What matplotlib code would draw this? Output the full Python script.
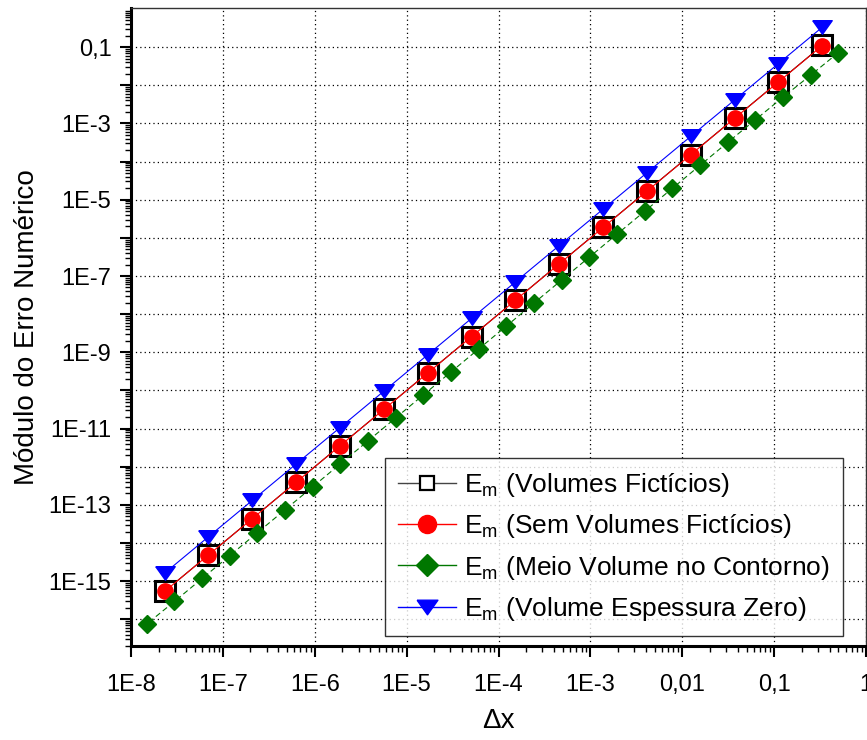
import matplotlib
matplotlib.use("Agg")
import matplotlib.pyplot as plt
import matplotlib.ticker as mticker
from matplotlib.lines import Line2D

plt.rcParams["font.family"] = ["Liberation Sans", "DejaVu Sans"]
plt.rcParams["mathtext.fontset"] = "custom"
plt.rcParams["mathtext.rm"] = "Liberation Sans"

# malhas refinadas por fator 3
dx_3 = [0.3333, 0.1111, 0.03704, 0.01235, 4.115e-3, 1.372e-3, 4.572e-4, 1.524e-4,
        5.081e-5, 1.694e-5, 5.645e-6, 1.882e-6, 6.272e-7, 2.091e-7, 6.969e-8, 2.323e-8]
# malhas refinadas por fator 2
dx_2 = [0.5, 0.25, 0.125, 0.0625, 0.03125, 0.015625, 7.8125e-3, 3.906e-3, 1.953e-3,
        9.766e-4, 4.883e-4, 2.441e-4, 1.221e-4, 6.104e-5, 3.052e-5, 1.526e-5, 7.629e-6,
        3.815e-6, 1.907e-6, 9.537e-7, 4.768e-7, 2.384e-7, 1.192e-7, 5.96e-8, 2.98e-8, 1.49e-8]

em_ficticios = [0.111, 0.0123, 1.37e-3, 1.52e-4, 1.69e-5, 1.88e-6, 2.09e-7, 2.32e-8,
                2.58e-9, 2.87e-10, 3.19e-11, 3.54e-12, 3.93e-13, 4.37e-14, 4.86e-15, 5.40e-16]
em_sem_ficticios = [0.110, 0.0122, 1.36e-3, 1.51e-4, 1.68e-5, 1.87e-6, 2.08e-7, 2.31e-8,
                    2.57e-9, 2.86e-10, 3.18e-11, 3.53e-12, 3.92e-13, 4.36e-14, 4.85e-15, 5.38e-16]
em_meio_volume = [0.072, 0.0185, 4.9e-3, 1.25e-3, 3.2e-4, 8.0e-5, 2.0e-5, 5.0e-6, 1.26e-6,
                  3.15e-7, 7.9e-8, 1.97e-8, 4.9e-9, 1.23e-9, 3.08e-10, 7.7e-11, 1.92e-11,
                  4.8e-12, 1.2e-12, 3.0e-13, 7.5e-14, 1.88e-14, 4.7e-15, 1.18e-15, 2.95e-16, 7.6e-17]
em_espessura_zero = [0.333, 0.037, 4.12e-3, 4.57e-4, 5.08e-5, 5.65e-6, 6.27e-7, 6.97e-8,
                     7.74e-9, 8.60e-10, 9.56e-11, 1.06e-11, 1.18e-12, 1.31e-13, 1.46e-14, 1.62e-15]

legend_labels = [
    r"E$_\mathregular{m}$ (Volumes Fictícios)",
    r"E$_\mathregular{m}$ (Sem Volumes Fictícios)",
    r"E$_\mathregular{m}$ (Meio Volume no Contorno)",
    r"E$_\mathregular{m}$ (Volume Espessura Zero)",
]

x_ticks = [1e-8, 1e-7, 1e-6, 1e-5, 1e-4, 1e-3, 1e-2, 1e-1, 1]
x_tick_labels = ["1E-8", "1E-7", "1E-6", "1E-5", "1E-4", "1E-3", "0,01", "0,1", "1"]
y_ticks = [10.0 ** e for e in range(-16, 0)]
y_tick_labels = ["" if e % 2 == 0 else ("0,1" if e == -1 else "1E%d" % e) for e in range(-16, 0)]

green = "#007700"
tri = [(-1, 0.7), (1, 0.7), (0, -0.7), (-1, 0.7)]

fig = plt.figure(figsize=(8.67, 7.40), dpi=100)
ax = fig.add_axes([0.151, 0.127, 0.848, 0.862])

ax.plot(dx_3, em_ficticios, color="black", lw=0.8, marker="s", ms=15,
        mfc="white", mec="black", mew=2.2, zorder=3)
ax.plot(dx_3, em_sem_ficticios, color="red", lw=0.8, marker="o", ms=11,
        mfc="red", mec="red", zorder=4)
ax.plot(dx_2, em_meio_volume, color=green, lw=0.8, ls=(0, (5, 3)), marker="D", ms=9,
        mfc=green, mec=green, zorder=5)
ax.plot(dx_3, em_espessura_zero, color="blue", lw=0.8, marker=tri, ms=14,
        mfc="blue", mec="blue", zorder=6)

ax.set_xscale("log")
ax.set_yscale("log")
ax.set_xlim(1e-8, 1)
ax.set_ylim(2e-17, 1.05)

ax.xaxis.set_major_locator(mticker.FixedLocator(x_ticks))
ax.xaxis.set_major_formatter(mticker.FixedFormatter(x_tick_labels))
ax.xaxis.set_minor_locator(mticker.LogLocator(base=10, subs=range(2, 10), numticks=30))
ax.xaxis.set_minor_formatter(mticker.NullFormatter())
ax.yaxis.set_major_locator(mticker.FixedLocator(y_ticks))
ax.yaxis.set_major_formatter(mticker.FixedFormatter(y_tick_labels))
ax.yaxis.set_minor_locator(mticker.LogLocator(base=10, subs=range(2, 10), numticks=40))
ax.yaxis.set_minor_formatter(mticker.NullFormatter())

ax.tick_params(axis="both", which="major", direction="out", length=8, width=1.5,
               labelsize=17, top=False, right=False)
ax.tick_params(axis="both", which="minor", direction="out", length=4, width=1.0,
               top=False, right=False)
ax.tick_params(axis="x", which="major", pad=12)
ax.tick_params(axis="y", which="major", pad=6)

ax.grid(True, which="major", color="black", ls=(0, (1, 2.5)), lw=0.9)

for side in ("left", "bottom"):
    ax.spines[side].set_linewidth(2.2)
for side in ("top", "right"):
    ax.spines[side].set_linewidth(1.0)
    ax.spines[side].set_color("#333333")

ax.set_ylabel("Módulo do Erro Numérico", fontsize=20, labelpad=6)
ax.set_xlabel("Δx", fontsize=20, labelpad=9)

handles = [
    Line2D([], [], color="#444444", lw=1, marker="s", ms=10, mfc="white", mec="black", mew=1.6),
    Line2D([], [], color="red", lw=1, marker="o", ms=13, mfc="red", mec="red"),
    Line2D([], [], color=green, lw=1, marker="D", ms=11, mfc=green, mec=green),
    Line2D([], [], color="blue", lw=1, marker=tri, ms=15, mfc="blue", mec="blue"),
]
leg = ax.legend(handles, legend_labels, loc="lower left", bbox_to_anchor=(0.3456, 0.0157),
                fontsize=19, frameon=True, fancybox=False, edgecolor="black",
                handlelength=2.2, handletextpad=0.3, labelspacing=0.5,
                borderpad=0.5, borderaxespad=0)
leg.get_frame().set_linewidth(1.0)
leg.set_zorder(10)

fig.savefig("out.png", dpi=100)
